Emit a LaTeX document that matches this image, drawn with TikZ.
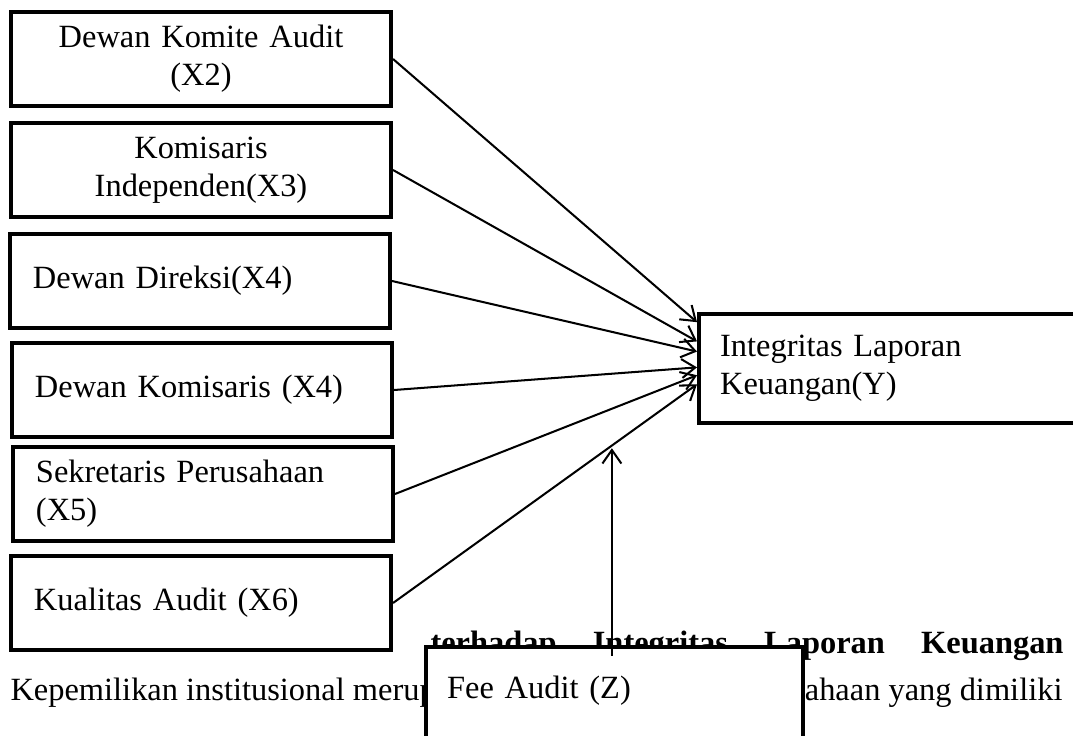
\documentclass[tikz,border=0pt]{standalone}
\usepackage{fontspec}
\setmainfont{Liberation Serif}
\usetikzlibrary{arrows.meta,calc}

\begin{document}
\begin{tikzpicture}[x=0.37pt,y=-0.37pt,>={Straight Barb[length=5pt,width=7pt]},
  font=\fontsize{12}{14}\selectfont,
  var/.style={draw,line width=1.5pt,fill=white,minimum width=140.6pt,minimum height=35pt,inner sep=0pt},
  varl/.style={var,align=left,text width=123.6pt},
  varc/.style={var,align=center,text width=123.6pt},
  link/.style={->,line width=0.75pt}]
  \useasboundingbox (0,0) rectangle (1073,735);
  \clip (0,0) rectangle (1073,735);
  % page text behind the figure
  \node[anchor=base west,inner sep=0pt] (head) at (430,653) {\makebox[234.2pt][s]{\bfseries terhadap Integritas Laporan Keuangan}};
  \node[anchor=base west,inner sep=0pt] (parl) at (10,700) {Kepemilikan institusional merup};
  \node[anchor=base east,inner sep=0pt] (parr) at (1063,700) {ahaan yang dimiliki};
  % independent variables
  \node[varc] (x2) at (201,59) {Dewan Komite Audit\\(X2)};
  \node[varc] (x3) at (201,170) {Komisaris\\Independen(X3)};
  \node[varl] (x4a) at (200,281) {Dewan Direksi(X4)};
  \node[varl] (x4b) at (202,390) {Dewan Komisaris (X4)};
  \node[varl] (x5) at (203,494) {Sekretaris Perusahaan\\(X5)};
  \node[varl] (x6) at (201,603) {Kualitas Audit (X6)};
  % dependent and moderating
  \node[var,anchor=north west,minimum width=155.8pt,minimum height=40.3pt,align=left,text width=140.2pt] (y) at (697,312) {Integritas Laporan\\Keuangan(Y)};
  \node[var,anchor=north west,minimum width=139.5pt,align=left,text width=123.9pt,text height=19.2pt,text depth=40pt] (z) at (424,645) {Fee Audit (Z)};
  \foreach \v/\f in {x2/0.09,x3/0.26,x4a/0.35,x4b/0.49,x5/0.56,x6/0.64}
    \draw[link] (\v.east) -- ($(y.north west)!\f!(y.south west)$);
  \coordinate (t6) at ($(y.north west)!0.64!(y.south west)$);
  \coordinate (mod) at ($(x6.east)!0.72!(t6)$);
  \coordinate (zs) at ([yshift=-4pt]z.north);
  \draw[link,shorten >=1pt] (mod |- zs) -- (mod);
\end{tikzpicture}
\end{document}
